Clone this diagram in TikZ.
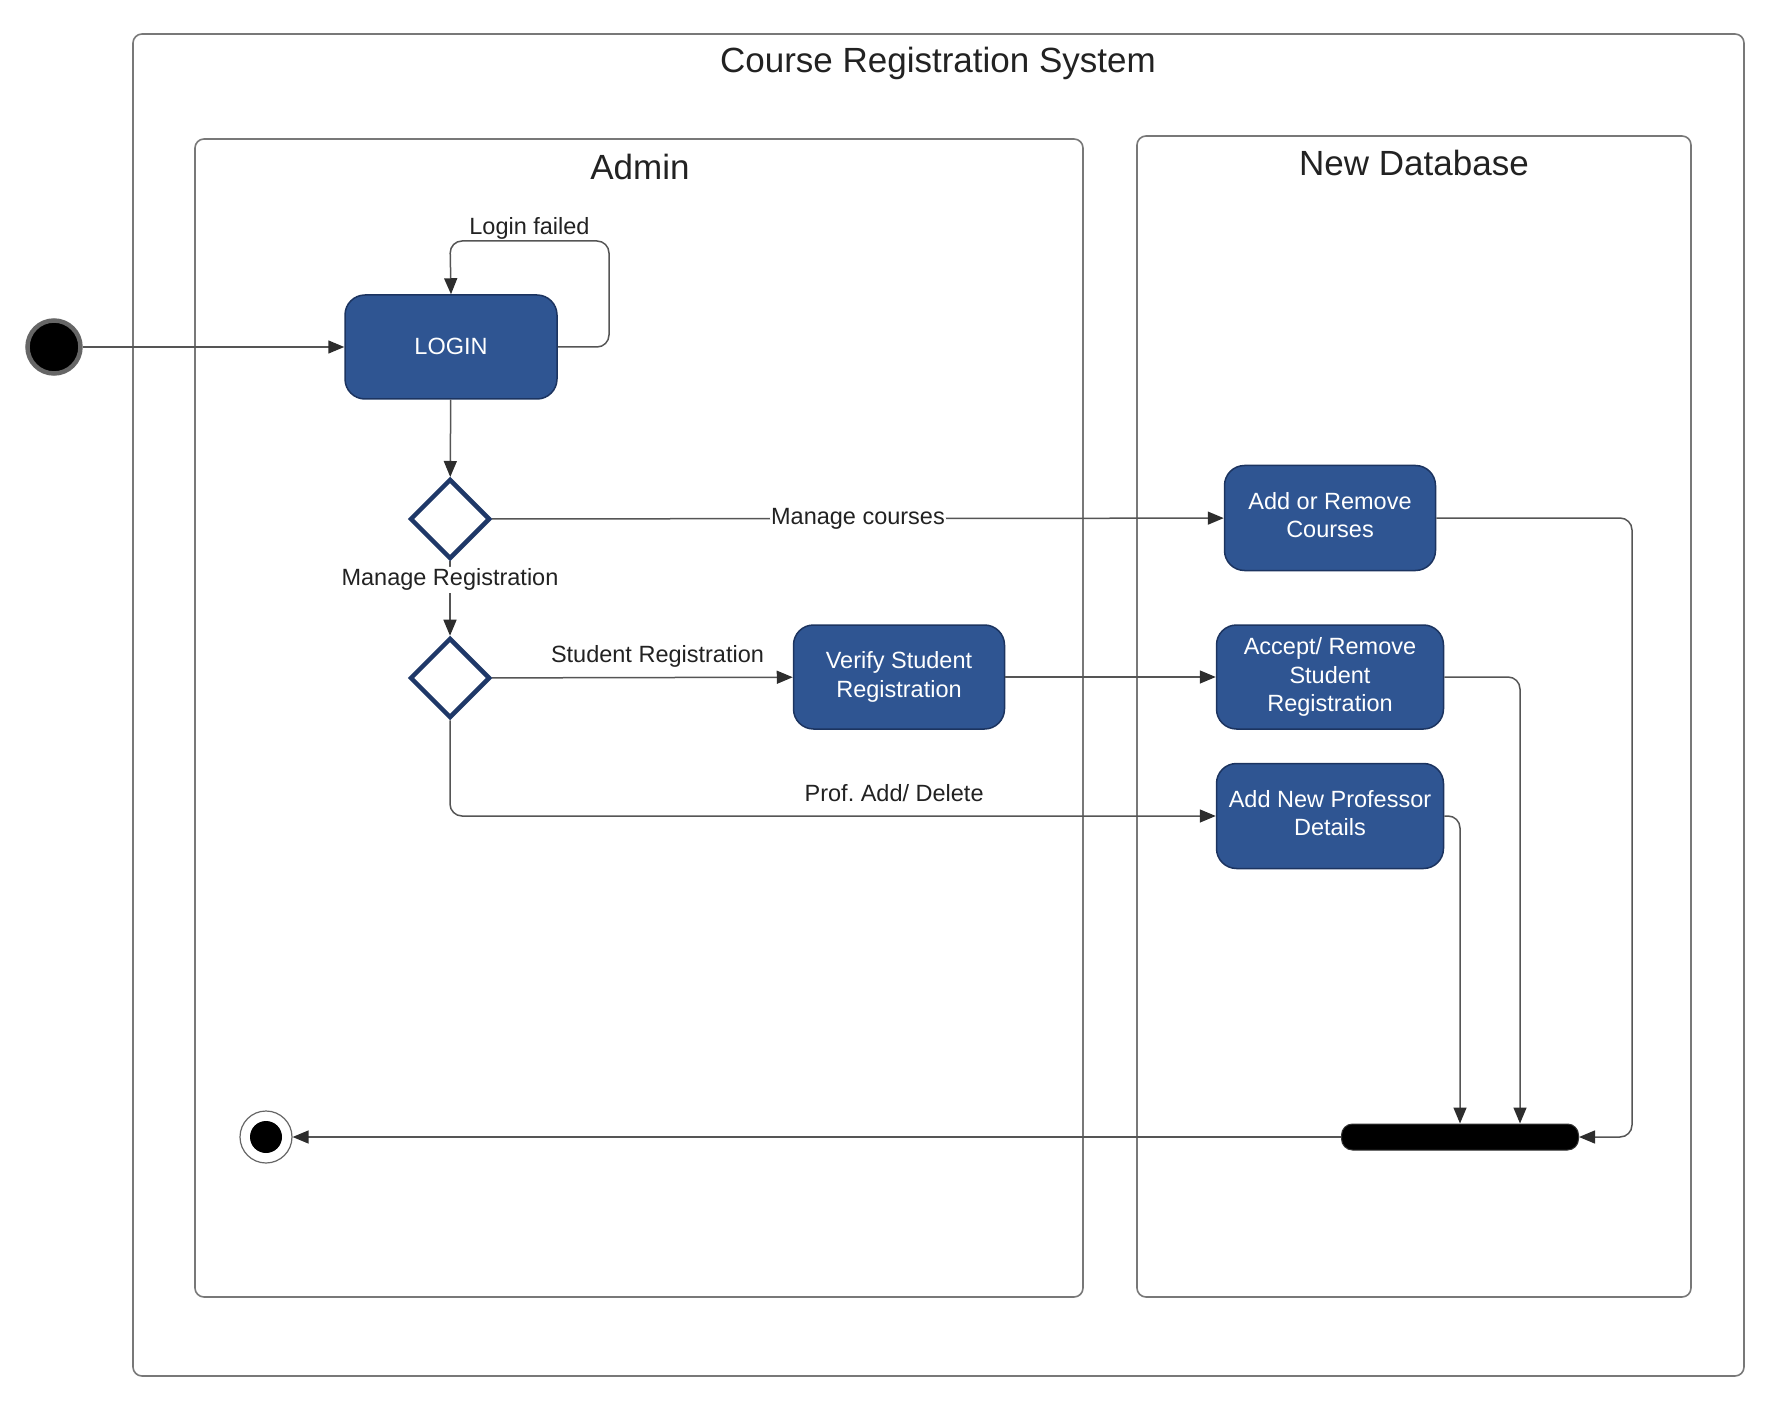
\documentclass[tikz,border=0pt]{standalone}
\usepackage{fontspec}
\setmainfont{Liberation Sans}
\usetikzlibrary{shapes.geometric,arrows.meta}
\definecolor{boxblue}{RGB}{47,85,146}
\definecolor{boxedge}{RGB}{28,52,96}
\definecolor{dia}{RGB}{31,56,104}
\definecolor{lanegray}{RGB}{120,120,120}
\definecolor{linegray}{RGB}{85,85,85}
\definecolor{tipgray}{RGB}{45,45,45}
\definecolor{txtgray}{RGB}{34,34,34}
\frenchspacing
\newcommand{\boxlines}[2][2pt]{\raisebox{#1}{\begin{tabular}{@{}c@{}}#2\end{tabular}}}
\begin{document}
\begin{tikzpicture}[x=1pt,y=-1pt,
  lanebox/.style={draw=lanegray, line width=1.6pt, rounded corners=9pt},
  act/.style={draw=boxedge, line width=1.5pt, fill=boxblue, rounded corners=20pt,
    text=white, font=\fontsize{23.5}{28.5}\selectfont, align=center, inner sep=0pt},
  dec/.style={diamond, draw=dia, line width=4.5pt, fill=white,
    minimum width=80pt, minimum height=80pt, inner sep=0pt},
  conn/.style={draw=linegray, line width=1.5pt, rounded corners=12pt,
    -{Triangle[length=16pt,width=13pt,color=tipgray]}},
  lbl/.style={font=\fontsize{23.5}{28}\selectfont, text=txtgray, inner sep=3pt},
  ttl/.style={font=\fontsize{35}{40}\selectfont, text=txtgray}]
\useasboundingbox (0,0) rectangle (1792,1412);

% frames
\draw[lanebox] (133,34) rectangle (1744,1376);
\node[ttl] (title) at (938,63.5) {Course Registration System};
\draw[lanebox] (195,139) rectangle (1083,1297);
\node[ttl] (admintitle) at (640,167) {Admin};
\draw[lanebox] (1137,136) rectangle (1691,1297);
\node[ttl] (dbtitle) at (1414,163) {New Database};

% nodes
\node[circle, fill=black, draw=black!60, line width=4.5pt, minimum size=53pt, inner sep=0pt] (init) at (54,347) {};
\node[act, minimum width=212pt, minimum height=104pt] (login) at (451,347) {\raisebox{2pt}{LOGIN}};
\node[dec] (d1) at (450,519) {};
\node[dec] (d2) at (450,678) {};
\node[act, minimum width=211pt, minimum height=105pt] (addc) at (1330,518) {\boxlines{Add or Remove\\Courses}};
\node[act, minimum width=211pt, minimum height=104pt] (verify) at (899,677) {Verify Student\\Registration};
\node[act, minimum width=227pt, minimum height=104pt] (accept) at (1330,677) {Accept/ Remove\\Student\\Registration};
\node[act, minimum width=227pt, minimum height=105pt] (prof) at (1330,816) {\boxlines[3pt]{Add New Professor\\Details}};
\node[fill=black, draw=black!80, line width=1pt, rounded corners=11pt, minimum width=237pt, minimum height=26pt, inner sep=0pt] (bar) at (1460,1137) {};
\node[circle, draw=black!60, line width=1.2pt, fill=white, minimum size=52pt, inner sep=0pt] (final) at (266,1137) {};
\node[circle, fill=black, minimum size=32pt, inner sep=0pt] (finaldot) at (266,1137) {};

% connectors
\draw[conn] (init) -- (login);
\draw[conn] (login.east) -- (609,347) -- (609,241) -- node[lbl, above, inner sep=1pt] {Login failed} (450,241) -- (login.north);
\draw[conn] (login) -- (d1);
\draw[conn] (d1) -- node[lbl, fill=white, inner sep=1pt] {Manage courses} (addc);
\draw[conn] (d1) -- node[lbl, fill=white, pos=0.25, inner sep=2pt] {Manage Registration} (d2);
\draw[conn] (d2) -- node[lbl, above, pos=0.55, inner sep=9pt] {Student Registration} (verify);
\draw[conn] (verify) -- (accept);
\draw[conn] (d2.south) |- node[lbl, above, pos=0.79, inner sep=14pt] {Prof. Add/ Delete} (prof.west);
\draw[conn] (addc.east) -- (1632,518) |- (bar.east);
\draw[conn] (accept.east) -| ([xshift=60pt]bar.north);
\draw[conn] (prof.east) -| (bar.north);
\draw[conn] (bar) -- (final);
\end{tikzpicture}
\end{document}
